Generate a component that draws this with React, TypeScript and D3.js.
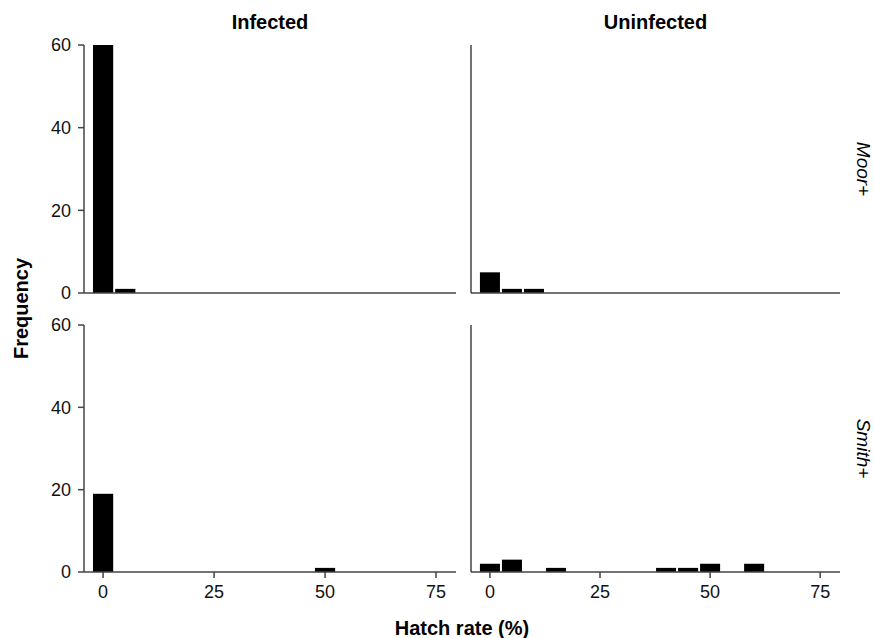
import React from 'react';
import * as d3 from 'd3';

const columns = ['Infected', 'Uninfected'];
const rows = ['Moor+', 'Smith+'];
const binWidth = 5;

// bin centres (%) and counts per panel
const moorInfectedBins = [0, 5];
const moorInfectedCounts = [60, 1];
const moorUninfectedBins = [0, 5, 10];
const moorUninfectedCounts = [5, 1, 1];
const smithInfectedBins = [0, 50];
const smithInfectedCounts = [19, 1];
const smithUninfectedBins = [0, 5, 15, 40, 45, 50, 60];
const smithUninfectedCounts = [2, 3, 1, 1, 1, 2, 2];

const xTicks = [0, 25, 50, 75];
const yTicks = [0, 20, 40, 60];

const panels = [
  { row: 0, col: 0, bins: moorInfectedBins, counts: moorInfectedCounts },
  { row: 0, col: 1, bins: moorUninfectedBins, counts: moorUninfectedCounts },
  { row: 1, col: 0, bins: smithInfectedBins, counts: smithInfectedCounts },
  { row: 1, col: 1, bins: smithUninfectedBins, counts: smithUninfectedCounts },
];

const width = 874;
const height = 638;
const colX = [[84, 456], [471, 840]];
const rowY = [[293, 45], [572, 325]];
const font = '"Liberation Sans", Arial, sans-serif';
const axisColor = '#444';

const App = () => {
  const xScales = colX.map((r) => d3.scaleLinear().domain([-4.3, 79.5]).range(r));
  const yScales = rowY.map((r) => d3.scaleLinear().domain([0, 60]).range(r));

  return (
    <svg width={width} height={height} style={{ position: 'absolute', left: 0, top: 0 }} fontFamily={font}>
      <rect width={width} height={height} fill="#fff" />
      {columns.map((c, i) => (
        <text key={c} x={(colX[i][0] + colX[i][1]) / 2} y={29} textAnchor="middle" fontSize={20} fontWeight="bold">
          {c}
        </text>
      ))}
      {rows.map((r, i) => {
        const cy = (rowY[i][0] + rowY[i][1]) / 2;
        return (
          <text key={r} transform={`translate(857,${cy}) rotate(90)`} textAnchor="middle" fontSize={19} fontStyle="italic">
            {r}
          </text>
        );
      })}
      <text transform={`translate(28,${(45 + 572) / 2}) rotate(-90)`} textAnchor="middle" fontSize={20} fontWeight="bold">
        Frequency
      </text>
      <text x={462} y={635} textAnchor="middle" fontSize={20} fontWeight="bold">
        Hatch rate (%)
      </text>

      {panels.map((p) => {
        const x = xScales[p.col];
        const y = yScales[p.row];
        const [x0, x1] = x.range();
        const [yb, yt] = y.range();
        return (
          <g key={`${p.row}-${p.col}`}>
            {p.bins.map((b, i) => (
              <rect
                key={b}
                x={x(b - binWidth / 2) + 1}
                y={y(p.counts[i])}
                width={x(b + binWidth / 2) - x(b - binWidth / 2) - 2}
                height={y(0) - y(p.counts[i])}
                fill="#000"
              />
            ))}
            <line x1={x0} x2={x0} y1={yt} y2={yb} stroke={axisColor} strokeWidth={1.5} />
            <line x1={x0} x2={x1} y1={yb} y2={yb} stroke={axisColor} strokeWidth={1.5} />
            {p.col === 0 &&
              yTicks.map((t) => (
                <g key={t}>
                  <line x1={x0 - 6} x2={x0} y1={y(t)} y2={y(t)} stroke={axisColor} strokeWidth={1.5} />
                  <text x={x0 - 13} y={y(t)} dy="0.35em" textAnchor="end" fontSize={18} fill="#111">
                    {t}
                  </text>
                </g>
              ))}
            {p.row === 1 &&
              xTicks.map((t) => (
                <g key={t}>
                  <line x1={x(t)} x2={x(t)} y1={yb} y2={yb + 6} stroke={axisColor} strokeWidth={1.5} />
                  <text x={x(t)} y={yb + 26} textAnchor="middle" fontSize={18} fill="#111">
                    {t}
                  </text>
                </g>
              ))}
          </g>
        );
      })}
    </svg>
  );
};

export default App;
